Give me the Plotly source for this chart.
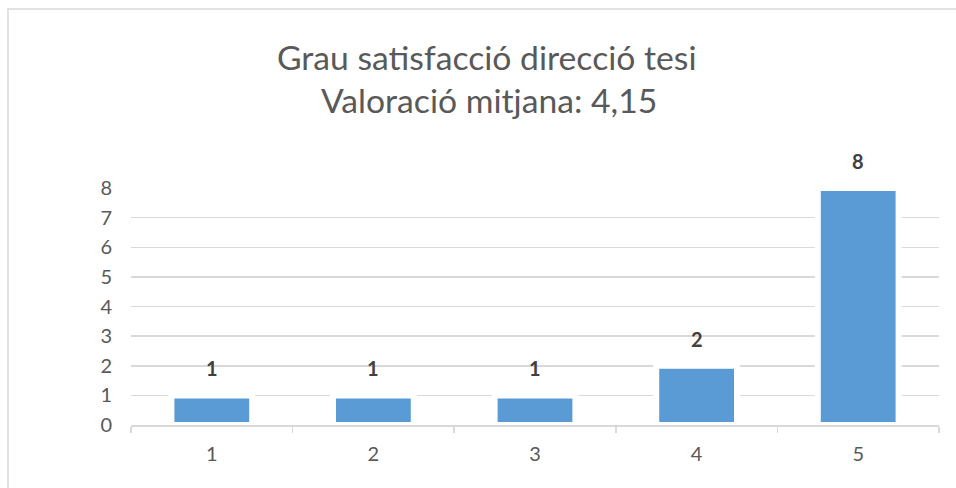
import plotly.graph_objects as go

categories = ["1", "2", "3", "4", "5"]
values = [1, 1, 1, 2, 8]
title_line1 = "Grau satisfacció direcció tesi"
title_line2 = "Valoració mitjana: 4,15"
y_ticks = [0, 1, 2, 3, 4, 5, 6, 7, 8]

W, H = 956, 488
L, R, T, B = 131, 17, 188, 63
pw, ph = W - L - R, H - T - B

def px_x(x):
    return (x - L) / pw

def px_y(y):
    return (H - B - y) / ph

FONT = "Lato, 'Open Sans', sans-serif"
GRAY = "#595959"
GRID = "#D9D9D9"

fig = go.Figure()
fig.add_trace(go.Bar(
    x=categories, y=values,
    marker=dict(color="#5B9BD5", line=dict(color="white", width=6)),
    width=0.5,
    hoverinfo="skip",
))

annotations = []
for i, v in enumerate(values):
    annotations.append(dict(
        x=i, y=v, xref="x", yref="y", text=f"<b>{v}</b>", showarrow=False,
        yanchor="bottom", yshift=13,
        font=dict(family=FONT, size=20, color="#404040"),
    ))
annotations.append(dict(
    x=px_x(487), y=px_y(57), xref="paper", yref="paper", text=title_line1,
    showarrow=False, xanchor="center", yanchor="middle",
    font=dict(family=FONT, size=33.7, color=GRAY),
))
annotations.append(dict(
    x=px_x(489), y=px_y(100), xref="paper", yref="paper", text=title_line2,
    showarrow=False, xanchor="center", yanchor="middle",
    font=dict(family=FONT, size=33.7, color=GRAY),
))

fig.update_layout(
    width=W, height=H,
    margin=dict(l=L, r=R, t=T, b=B),
    paper_bgcolor="white", plot_bgcolor="white",
    showlegend=False,
    annotations=annotations,
    shapes=[dict(
        type="rect", xref="paper", yref="paper",
        x0=px_x(8), x1=px_x(970), y0=px_y(500), y1=px_y(9),
        line=dict(color=GRID, width=1.5), fillcolor="rgba(0,0,0,0)", layer="below",
    )],
    xaxis=dict(
        type="category", range=[-0.5, 4.5], showgrid=False, showline=True,
        linecolor=GRID, linewidth=1.5,
        ticks="outside", tickson="boundaries", ticklen=6, tickcolor=GRID, tickwidth=1.5,
        tickfont=dict(family=FONT, size=20, color=GRAY), ticklabelstandoff=10,
        zeroline=False,
    ),
    yaxis=dict(
        range=[0, 8], tickvals=y_ticks, showgrid=True, gridcolor=GRID, gridwidth=1.5,
        zeroline=False, showline=False, ticks="",
        tickfont=dict(family=FONT, size=20, color=GRAY), ticklabelstandoff=18,
    ),
)

fig.write_html(
    "out.html",
    config={"displayModeBar": False, "staticPlot": True},
    post_script="document.body.style.margin='0';document.body.style.overflow='hidden';",
)
